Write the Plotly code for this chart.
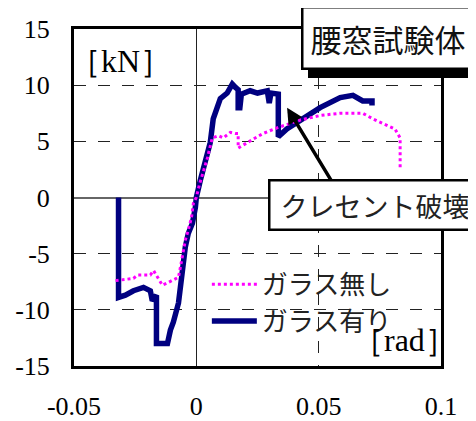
import plotly.graph_objects as go

# ガラス有り (navy)
with_x = [-0.0318, -0.0318, -0.029, -0.0257, -0.0216, -0.0188, -0.018, -0.0163, -0.0163,
          -0.0118, -0.0106, -0.0094, -0.0073, -0.0065, -0.0057, -0.0045, -0.0033, -0.0016,
          -0.0004, 0.0, 0.0016, 0.0037, 0.0045, 0.0057, 0.0069, 0.0098, 0.0126, 0.0147,
          0.016, 0.0171, 0.0171, 0.0178, 0.0184, 0.022, 0.025, 0.029, 0.0298, 0.0305,
          0.0335, 0.0335, 0.037, 0.0437, 0.0506, 0.0588, 0.064, 0.068, 0.0718, 0.0718]
with_y = [0, -8.9, -8.7, -8.3, -8.0, -8.3, -9.2, -8.7, -13.0,
          -13.0, -11.8, -11.1, -9.4, -8.0, -6.2, -4.4, -3.2, -2.3,
          -0.9, 0, 1.5, 3.3, 3.5, 4.9, 7.0, 8.8, 9.3, 10.1,
          9.8, 9.6, 8.0, 8.0, 9.2, 9.5, 9.3, 9.5, 8.4, 9.3,
          9.2, 5.4, 6.1, 7.0, 8.0, 8.9, 9.1, 8.6, 8.6, 8.2]

# ガラス無し (magenta)
without_x = [-0.033, -0.0257, -0.024, -0.0188, -0.0175, -0.0155, -0.0139, -0.0118, -0.0098,
             -0.0073, -0.0065, -0.0057, -0.0045, -0.0033, -0.002, -0.0012, 0, 0.0012, 0.0029,
             0.0045, 0.0065, 0.009, 0.011, 0.0139, 0.016, 0.0171, 0.0171, 0.02, 0.0233,
             0.0273, 0.033, 0.0425, 0.0506, 0.0588, 0.068, 0.0722, 0.078, 0.0812, 0.0833,
             0.0833, 0.0833]
without_y = [-7.4, -7.2, -6.9, -6.9, -6.5, -7.2, -7.8, -7.6, -7.4,
             -7.1, -6.2, -5.3, -3.8, -2.9, -1.8, -0.5, 0, 1.1, 2.4,
             3.5, 5.3, 5.5, 5.3, 5.8, 5.7, 5.7, 4.4, 4.8, 5.2,
             5.7, 6.2, 6.9, 7.3, 7.5, 7.5, 7.0, 6.4, 6.1, 5.3,
             4.4, 2.6]

x_ticks = [-0.05, 0, 0.05, 0.1]
x_tick_labels = ["-0.05", "0", "0.05", "0.1"]
y_ticks = [-15, -10, -5, 0, 5, 10, 15]
y_tick_labels = ["-15", "-10", "-5", "0", "5", "10", "15"]

SERIF = "Liberation Serif, Times New Roman, serif"
CJK = "Noto Sans CJK JP"

fig = go.Figure()
fig.add_trace(go.Scatter(
    x=with_x, y=with_y, mode="lines", name="ガラス有り",
    line=dict(color="#000080", width=5.5), legendrank=2, legendgroup="b"))
fig.add_trace(go.Scatter(
    x=without_x, y=without_y, mode="lines", name="ガラス無し",
    line=dict(color="#ff00ff", width=3, dash="dot"), legendrank=1, legendgroup="a"))

# page body has an 8px margin, so the figure is sized 8px smaller than the window
fig.update_layout(
    width=468, height=413,
    margin=dict(l=66, r=35, t=21, b=55),
    paper_bgcolor="white", plot_bgcolor="white",
    showlegend=True,
    legend=dict(x=0.362, y=0.312, xanchor="left", yanchor="top",
                bgcolor="rgba(0,0,0,0)", font=dict(family=CJK, size=26, color="#222"),
                tracegroupgap=0, itemwidth=45),
    xaxis=dict(range=[-0.05, 0.1], tickvals=x_ticks, ticktext=x_tick_labels,
               automargin=False,
               showgrid=True, gridcolor="#222", gridwidth=1, griddash="12px,12px",
               zeroline=True, zerolinecolor="#222", zerolinewidth=1,
               showline=True, mirror=True, linecolor="black", linewidth=3,
               ticks="", ticklabelstandoff=15,
               tickfont=dict(family=SERIF, size=26, color="black")),
    yaxis=dict(range=[-15, 15], tickvals=y_ticks, ticktext=y_tick_labels,
               automargin=False,
               showgrid=True, gridcolor="#222", gridwidth=1, griddash="12px,12px",
               zeroline=True, zerolinecolor="#666", zerolinewidth=1.5,
               showline=True, mirror=True, linecolor="black", linewidth=3,
               ticks="", ticklabelstandoff=16,
               tickfont=dict(family=SERIF, size=26, color="black")),
)

annotations = [
    dict(text="［kN］", xref="paper", yref="paper", x=-0.02, y=0.905,
         xanchor="left", yanchor="middle", showarrow=False,
         font=dict(family=SERIF, size=32, color="black")),
    dict(text="［rad］", xref="paper", yref="paper", x=1.049, y=0.077,
         xanchor="right", yanchor="middle", showarrow=False,
         font=dict(family=SERIF, size=32, color="black")),
    # shadow of title box
    dict(text="腰窓試験体", xref="paper", yref="paper", x=0.855, y=0.973,
         xanchor="center", yanchor="middle", showarrow=False, xshift=7, yshift=-8,
         font=dict(family=CJK, size=31, color="black"),
         bgcolor="black", bordercolor="black", borderwidth=2.5, borderpad=7),
    dict(text="腰窓試験体", xref="paper", yref="paper", x=0.855, y=0.973,
         xanchor="center", yanchor="middle", showarrow=False,
         font=dict(family=CJK, size=31, color="#111"),
         bgcolor="white", bordercolor="black", borderwidth=2.5, borderpad=7),
    # arrow
    dict(text="", x=0.0371, y=8.0, xref="x", yref="y", showarrow=True,
         ax=46, ay=76, arrowhead=2, arrowsize=0.9, arrowwidth=3.5, arrowcolor="black"),
    dict(text=" クレセント破壊 ", xref="paper", yref="paper", x=0.5286, y=0.478,
         xanchor="left", yanchor="middle", showarrow=False,
         font=dict(family=CJK, size=27, color="#222"),
         bgcolor="white", bordercolor="black", borderwidth=2.5, borderpad=4),
]
fig.update_layout(annotations=annotations)

fig.write_html("out.html")
